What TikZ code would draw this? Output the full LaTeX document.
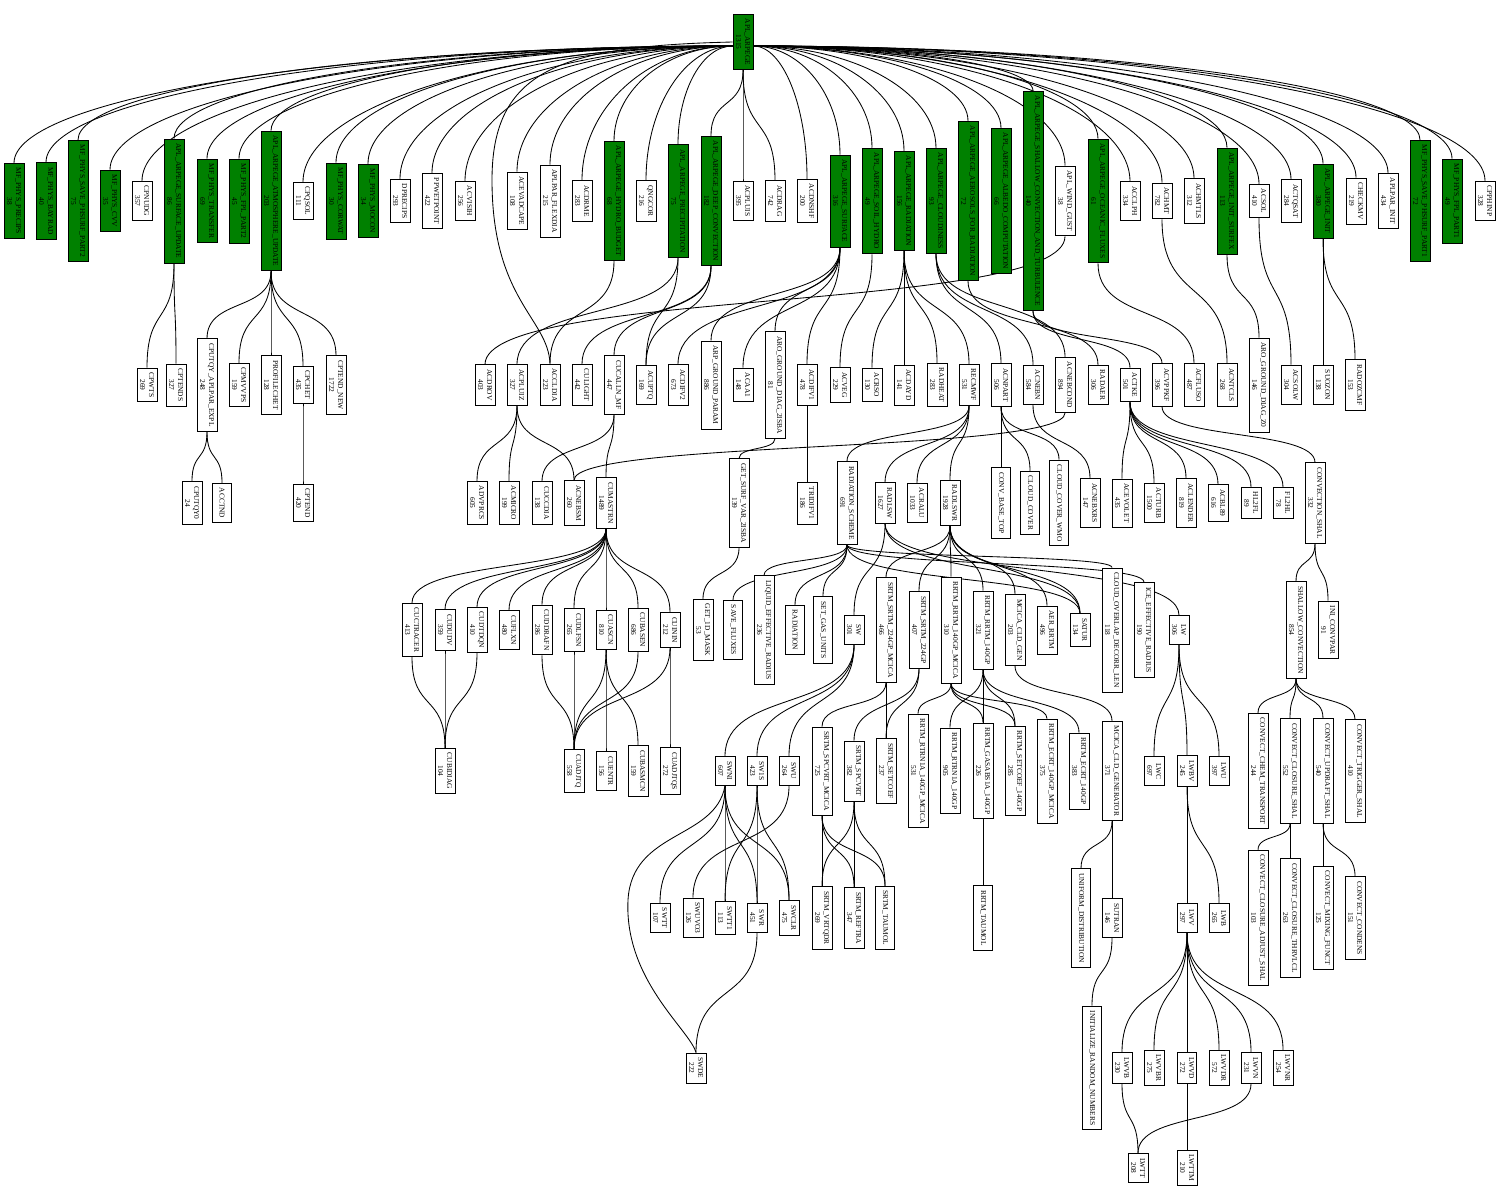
\documentclass[tikz,border=0pt]{standalone}
\usepackage{fontspec}
\setmainfont{Liberation Serif}
\usetikzlibrary{calc}
\definecolor{callgreen}{RGB}{0,128,0}
\pgfdeclarelayer{bg}
\pgfsetlayers{bg,main}
\tikzset{
  fn/.style={draw=black, line width=0.9pt, rectangle, rotate=-90,
    font=\fontsize{7.4}{9}\selectfont, align=center,
    inner xsep=4.5pt, inner ysep=3pt, minimum width=29pt, minimum height=19pt},
  gfn/.style={fn, fill=callgreen},
  wfn/.style={fn, fill=white},
  edge/.style={draw=black, line width=0.85pt},
}
% caller bottom -> callee top, graphviz-like S spline
\newcommand\cge[2]{\draw[edge] let \p1=(#1.east), \p2=(#2.west), \n1={0.6*abs(\y1-\y2)} in (\p1) .. controls +(0,-\n1) and +(0,\n1) .. (\p2);}
% fan from the root to the left / right
\newcommand\fanl[1]{\draw[edge] let \p1=($(root.south)+(0,-4)$), \p2=(#1.west), \n1={0.55*abs(\x1-\x2)}, \n2={0.55*abs(\y1-\y2)} in (\p1) .. controls +(-\n1,0) and +(0,\n2) .. (\p2);}
\newcommand\fanr[1]{\draw[edge] let \p1=($(root.north)+(0,-4)$), \p2=(#1.west), \n1={0.55*abs(\x1-\x2)}, \n2={0.55*abs(\y1-\y2)} in (\p1) .. controls +(\n1,0) and +(0,\n2) .. (\p2);}
\begin{document}
\begin{tikzpicture}[x=1pt,y=1pt]
\useasboundingbox (0,0) rectangle (1499,-1191);

\node[gfn] (root) at (743,-42) {APL\_ARPEGE\\1315};

% ---- level 1
\node[gfn] (precips) at (14,-201) {MF\_PHYS\_PRECIPS\\38};
\node[gfn] (bayrad) at (46,-201) {MF\_PHYS\_BAYRAD\\40};
\node[gfn] (phsurf2) at (78,-201) {MF\_PHYS\_SAVE\_PHSURF\_PART2\\75};
\node[gfn] (cvv) at (110,-201) {MF\_PHYS\_CVV\\35};
\node[wfn] (cpnudg) at (142,-201) {CPNUDG\\357};
\node[gfn] (surfupd) at (174,-201) {APL\_ARPEGE\_SURFACE\_UPDATE\\86};
\node[gfn] (transfer) at (207,-201) {MF\_PHYS\_TRANSFER\\69};
\node[gfn] (fpl2) at (239,-201) {MF\_PHYS\_FPL\_PART2\\45};
\node[gfn] (atmupd) at (271,-201) {APL\_ARPEGE\_ATMOSPHERE\_UPDATE\\203};
\node[wfn] (cpqsol) at (303,-201) {CPQSOL\\111};
\node[gfn] (corwat) at (336,-201) {MF\_PHYS\_CORWAT\\30};
\node[gfn] (mocon) at (368,-201) {MF\_PHYS\_MOCON\\34};
\node[wfn] (dprecips) at (400,-201) {DPRECIPS\\293};
\node[wfn] (ppwet) at (432,-201) {PPWETPOINT\\422};
\node[wfn] (acvisih) at (465,-201) {ACVISIH\\256};
\node[wfn] (acevad) at (517,-201) {ACEVADCAPE\\108};
\node[wfn] (flexdia) at (550,-201) {APLPAR\_FLEXDIA\\215};
\node[wfn] (acdrme) at (582,-201) {ACDRME\\283};
\node[gfn] (hydro) at (614,-201) {APL\_ARPEGE\_HYDRO\_BUDGET\\68};
\node[wfn] (qngcor) at (646,-201) {QNGCOR\\216};
\node[gfn] (precip) at (678,-201) {APL\_ARPEGE\_PRECIPITATION\\75};
\node[gfn] (deepconv) at (711,-201) {APL\_ARPEGE\_DEEP\_CONVECTION\\182};
\node[wfn] (acpluis) at (743,-201) {ACPLUIS\\395};
\node[wfn] (acdrag) at (775,-201) {ACDRAG\\742};
\node[wfn] (acdnshf) at (807,-201) {ACDNSHF\\200};
\node[gfn] (surface) at (840,-201) {APL\_ARPEGE\_SURFACE\\316};
\node[gfn] (soilhydro) at (872,-201) {APL\_ARPEGE\_SOIL\_HYDRO\\49};
\node[gfn] (radiation) at (904,-201) {APL\_ARPEGE\_RADIATION\\156};
\node[gfn] (cloudiness) at (936,-201) {APL\_ARPEGE\_CLOUDINESS\\93};
\node[gfn] (aerosols) at (968,-201) {APL\_ARPEGE\_AEROSOLS\_FOR\_RADIATION\\72};
\node[gfn] (albedo) at (1001,-201) {APL\_ARPEGE\_ALBEDO\_COMPUTATION\\66};
\node[gfn] (shalturb) at (1033,-201) {APL\_ARPEGE\_SHALLOW\_CONVECTION\_AND\_TURBULENCE\\140};
\node[wfn] (windgust) at (1065,-201) {APL\_WIND\_GUST\\38};
\node[gfn] (oceanic) at (1098,-201) {APL\_ARPEGE\_OCEANIC\_FLUXES\\61};
\node[wfn] (acclph) at (1130,-201) {ACCLPH\\334};
\node[wfn] (achmt) at (1162,-201) {ACHMT\\782};
\node[wfn] (achmtls) at (1194,-201) {ACHMTLS\\312};
\node[gfn] (initsurfex) at (1227,-201) {APL\_ARPEGE\_INIT\_SURFEX\\113};
\node[wfn] (acsol) at (1259,-201) {ACSOL\\410};
\node[wfn] (actqsat) at (1291,-201) {ACTQSAT\\284};
\node[gfn] (arpinit) at (1323,-201) {APL\_ARPEGE\_INIT\\380};
\node[wfn] (checkmv) at (1356,-201) {CHECKMV\\219};
\node[wfn] (aplparinit) at (1388,-201) {APLPAR\_INIT\\434};
\node[gfn] (phsurf1) at (1420,-201) {MF\_PHYS\_SAVE\_PHSURF\_PART1\\72};
\node[gfn] (fpl1) at (1452,-201) {MF\_PHYS\_FPL\_PART1\\49};
\node[wfn] (cpphinp) at (1485,-201) {CPPHINP\\328};

% ---- level 2
\node[wfn] (cpwts) at (147,-385) {CPWTS\\269};
\node[wfn] (cptends) at (176,-385) {CPTENDS\\327};
\node[wfn] (cputqy) at (207,-385) {CPUTQY\_APLPAR\_EXPL\\248};
\node[wfn] (cpmvvps) at (239,-385) {CPMVVPS\\159};
\node[wfn] (profilechet) at (271,-385) {PROFILECHET\\128};
\node[wfn] (cpchet) at (303,-385) {CPCHET\\435};
\node[wfn] (cptendnew) at (336,-385) {CPTEND\_NEW\\1722};
\node[wfn] (acdrov) at (485,-385) {ACDROV\\403};
\node[wfn] (acpluiz) at (517,-385) {ACPLUIZ\\327};
\node[wfn] (accldia) at (550,-385) {ACCLDIA\\223};
\node[wfn] (culight) at (582,-385) {CULIGHT\\442};
\node[wfn] (cucalln) at (614,-385) {CUCALLN\_MF\\447};
\node[wfn] (acuptq) at (646,-385) {ACUPTQ\\169};
\node[wfn] (acdifv2) at (678,-385) {ACDIFV2\\673};
\node[wfn] (arpground) at (711,-385) {ARP\_GROUND\_PARAM\\886};
\node[wfn] (acaa1) at (743,-385) {ACAA1\\148};
\node[wfn] (arodiag2) at (775,-385) {ARO\_GROUND\_DIAG\_2ISBA\\81};
\node[wfn] (acdifv1) at (807,-385) {ACDIFV1\\478};
\node[wfn] (acveg) at (840,-385) {ACVEG\\229};
\node[wfn] (acrso) at (872,-385) {ACRSO\\130};
\node[wfn] (acdayd) at (904,-385) {ACDAYD\\141};
\node[wfn] (radheat) at (937,-385) {RADHEAT\\283};
\node[wfn] (recmwf) at (969,-385) {RECMWF\\531};
\node[wfn] (acnpart) at (1001,-385) {ACNPART\\506};
\node[wfn] (acnebn) at (1033,-385) {ACNEBN\\584};
\node[wfn] (acnebcond) at (1065,-385) {ACNEBCOND\\894};
\node[wfn] (radaer) at (1098,-385) {RADAER\\306};
\node[wfn] (actke) at (1130,-385) {ACTKE\\501};
\node[wfn] (acvppkf) at (1162,-385) {ACVPPKF\\396};
\node[wfn] (acfluso) at (1194,-385) {ACFLUSO\\487};
\node[wfn] (acntcls) at (1227,-385) {ACNTCLS\\268};
\node[wfn] (arodiagz0) at (1259,-385) {ARO\_GROUND\_DIAG\_Z0\\146};
\node[wfn] (acsolw) at (1291,-385) {ACSOLW\\304};
\node[wfn] (suozon) at (1323,-385) {SUOZON\\138};
\node[wfn] (radozcmf) at (1355,-385) {RADOZCMF\\153};

% ---- level 3
\node[wfn] (cputqy0) at (192,-503) {CPUTQY0\\24};
\node[wfn] (acctnd) at (222,-503) {ACCTND};
\node[wfn] (cptend) at (303,-503) {CPTEND\\420};
\node[wfn] (advprcs) at (477,-503) {ADVPRCS\\605};
\node[wfn] (acmicro) at (509,-503) {ACMICRO\\199};
\node[wfn] (cuccdia) at (542,-503) {CUCCDIA\\138};
\node[wfn] (acnebsm) at (574,-503) {ACNEBSM\\260};
\node[wfn] (cumastrn) at (606,-503) {CUMASTRN\\1489};
\node[wfn] (getsurf) at (739,-503) {GET\_SURF\_VAR\_2ISBA\\139};
\node[wfn] (tridifv1) at (807,-503) {TRIDIFV1\\186};
\node[wfn] (radscheme) at (847,-503) {RADIATION\_SCHEME\\691};
\node[wfn] (radlsw) at (885,-503) {RADLSW\\1627};
\node[wfn] (acralu) at (917,-503) {ACRALU\\1033};
\node[wfn] (radlswr) at (950,-503) {RADLSWR\\1928};
\node[wfn] (convbase) at (1001,-503) {CONV\_BASE\_TOP};
\node[wfn] (cloudcover) at (1030,-503) {CLOUD\_COVER};
\node[wfn] (cloudwmo) at (1059,-503) {CLOUD\_COVER\_WMO};
\node[wfn] (acnebxrs) at (1090,-503) {ACNEBXRS\\147};
\node[wfn] (acevolet) at (1122,-503) {ACEVOLET\\435};
\node[wfn] (acturb) at (1154,-503) {ACTURB\\1500};
\node[wfn] (aclender) at (1186,-503) {ACLENDER\\819};
\node[wfn] (acbl89) at (1218,-503) {ACBL89\\616};
\node[wfn] (hl2fl) at (1251,-503) {HL2FL\\89};
\node[wfn] (fl2hl) at (1283,-503) {FL2HL\\78};
\node[wfn] (convshal) at (1315,-503) {CONVECTION\_SHAL\\332};

% ---- level 4
\node[wfn] (cuctracer) at (412,-630) {CUCTRACER\\413};
\node[wfn] (cududv) at (445,-630) {CUDUDV\\359};
\node[wfn] (cudtdqn) at (477,-630) {CUDTDQN\\410};
\node[wfn] (cuflxn) at (509,-630) {CUFLXN\\480};
\node[wfn] (cuddrafn) at (542,-630) {CUDDRAFN\\286};
\node[wfn] (cudlfsn) at (574,-630) {CUDLFSN\\265};
\node[wfn] (cuascn) at (606,-630) {CUASCN\\810};
\node[wfn] (cubasen) at (638,-630) {CUBASEN\\686};
\node[wfn] (cuinin) at (670,-630) {CUININ\\212};
\node[wfn] (get1d) at (703,-630) {GET\_1D\_MASK\\53};
\node[wfn] (savefluxes) at (733,-630) {SAVE\_FLUXES};
\node[wfn] (liqeff) at (764,-630) {LIQUID\_EFFECTIVE\_RADIUS\\236};
\node[wfn] (radiat) at (795,-630) {RADIATION};
\node[wfn] (setgas) at (823,-630) {SET\_GAS\_UNITS};
\node[wfn] (sw) at (854,-630) {SW\\301};
\node[wfn] (srtmmcica) at (886,-630) {SRTM\_SRTM\_224GP\_MCICA\\466};
\node[wfn] (srtm) at (919,-630) {SRTM\_SRTM\_224GP\\407};
\node[wfn] (rrtmmcica) at (951,-630) {RRTM\_RRTM\_140GP\_MCICA\\310};
\node[wfn] (rrtm) at (983,-630) {RRTM\_RRTM\_140GP\\321};
\node[wfn] (mcicagen) at (1015,-630) {MCICA\_CLD\_GEN\\203};
\node[wfn] (aerrrtm) at (1047,-630) {AER\_RRTM\\496};
\node[wfn] (satur) at (1080,-630) {SATUR\\134};
\node[wfn] (cloudoverlap) at (1112,-630) {CLOUD\_OVERLAP\_DECORR\_LEN\\118};
\node[wfn] (iceeff) at (1144,-630) {ICE\_EFFECTIVE\_RADIUS\\190};
\node[wfn] (lw) at (1179,-630) {LW\\306};
\node[wfn] (shallowconv) at (1296,-630) {SHALLOW\_CONVECTION\\854};
\node[wfn] (iniconvpar) at (1328,-630) {INI\_CONVPAR\\91};

% ---- level 5
\node[wfn] (cubidiag) at (445,-771) {CUBIDIAG\\104};
\node[wfn] (cuadjtq) at (574,-771) {CUADJTQ\\558};
\node[wfn] (cuentr) at (606,-771) {CUENTR\\156};
\node[wfn] (cubasmcn) at (638,-771) {CUBASMCN\\159};
\node[wfn] (cuadjtqs) at (670,-771) {CUADJTQS\\272};
\node[wfn] (swni) at (725,-771) {SWNI\\607};
\node[wfn] (sw1s) at (757,-771) {SW1S\\423};
\node[wfn] (swu) at (789,-771) {SWU\\264};
\node[wfn] (spcvrtmcica) at (822,-771) {SRTM\_SPCVRT\_MCICA\\725};
\node[wfn] (spcvrt) at (854,-771) {SRTM\_SPCVRT\\382};
\node[wfn] (srtmsetcoef) at (886,-771) {SRTM\_SETCOEF\\237};
\node[wfn] (rtrnmcica) at (918,-771) {RRTM\_RTRN1A\_140GP\_MCICA\\531};
\node[wfn] (rtrn) at (950,-771) {RRTM\_RTRN1A\_140GP\\905};
\node[wfn] (gasabs) at (983,-771) {RRTM\_GASABS1A\_140GP\\226};
\node[wfn] (rrtmsetcoef) at (1015,-771) {RRTM\_SETCOEF\_140GP\\285};
\node[wfn] (ecrtmcica) at (1047,-771) {RRTM\_ECRT\_140GP\_MCICA\\375};
\node[wfn] (ecrt) at (1079,-771) {RRTM\_ECRT\_140GP\\383};
\node[wfn] (mcicagenerator) at (1112,-771) {MCICA\_CLD\_GENERATOR\\371};
\node[wfn] (lwc) at (1154,-771) {LWC\\697};
\node[wfn] (lwbv) at (1187,-771) {LWBV\\245};
\node[wfn] (lwu) at (1219,-771) {LWU\\397};
\node[wfn] (chemtrans) at (1258,-771) {CONVECT\_CHEM\_TRANSPORT\\244};
\node[wfn] (closureshal) at (1290,-771) {CONVECT\_CLOSURE\_SHAL\\552};
\node[wfn] (updraftshal) at (1323,-771) {CONVECT\_UPDRAFT\_SHAL\\540};
\node[wfn] (triggershal) at (1355,-771) {CONVECT\_TRIGGER\_SHAL\\410};

% ---- level 6
\node[wfn] (swtt) at (660,-918) {SWTT\\107};
\node[wfn] (swuvo3) at (693,-918) {SWUVO3\\126};
\node[wfn] (swtt1) at (725,-918) {SWTT1\\113};
\node[wfn] (swr) at (757,-918) {SWR\\451};
\node[wfn] (swclr) at (789,-918) {SWCLR\\475};
\node[wfn] (vrtqdr) at (822,-918) {SRTM\_VRTQDR\\269};
\node[wfn] (reftra) at (854,-918) {SRTM\_REFTRA\\347};
\node[wfn] (srtmtaumol) at (885,-918) {SRTM\_TAUMOL};
\node[wfn] (rrtmtaumol) at (983,-918) {RRTM\_TAUMOL};
\node[wfn] (uniform) at (1081,-918) {UNIFORM\_DISTRIBUTION};
\node[wfn] (sutran) at (1112,-918) {SUTRAN\\146};
\node[wfn] (lwv) at (1187,-918) {LWV\\297};
\node[wfn] (lwb) at (1219,-918) {LWB\\265};
\node[wfn] (closureadj) at (1258,-918) {CONVECT\_CLOSURE\_ADJUST\_SHAL\\103};
\node[wfn] (thrvlcl) at (1290,-918) {CONVECT\_CLOSURE\_THRVLCL\\263};
\node[wfn] (mixing) at (1323,-918) {CONVECT\_MIXING\_FUNCT\\125};
\node[wfn] (condens) at (1355,-918) {CONVECT\_CONDENS\\151};

% ---- level 7 and 8
\node[wfn] (swde) at (696,-1068) {SWDE\\222};
\node[wfn] (initrand) at (1092,-1068) {INITIALIZE\_RANDOM\_NUMBERS};
\node[wfn] (lwvb) at (1122,-1068) {LWVB\\230};
\node[wfn] (lwvbr) at (1154,-1068) {LWVBR\\275};
\node[wfn] (lwvd) at (1187,-1068) {LWVD\\272};
\node[wfn] (lwvdr) at (1219,-1068) {LWVDR\\572};
\node[wfn] (lwvn) at (1251,-1068) {LWVN\\231};
\node[wfn] (lwvnr) at (1283,-1068) {LWVNR\\254};
\node[wfn] (lwtt) at (1138,-1168) {LWTT\\208};
\node[wfn] (lwttm) at (1187,-1168) {LWTTM\\210};

\begin{pgfonlayer}{bg}
% root fan
\foreach \k in {precips,bayrad,phsurf2,cvv,cpnudg,surfupd,transfer,fpl2,atmupd,cpqsol,corwat,mocon,dprecips,ppwet,acvisih,acevad,flexdia,acdrme,hydro,qngcor,precip}{\fanl{\k}}
\foreach \k in {acdnshf,surface,soilhydro,radiation,cloudiness,aerosols,albedo,shalturb,windgust,oceanic,acclph,achmt,achmtls,initsurfex,acsol,actqsat,arpinit,checkmv,aplparinit,phsurf1,fpl1,cpphinp}{\fanr{\k}}
\cge{root}{deepconv}
\cge{root}{acpluis}
\cge{root}{acdrag}
\draw[edge] (root.south) .. controls (560,-46) and (492,-70) .. (492,-180) .. controls (492,-300) and (548,-318) .. (accldia.west);

% level 1 -> 2
\foreach \k in {cpwts,cptends}{\cge{surfupd}{\k}}
\foreach \k in {cputqy,cpmvvps,profilechet,cpchet,cptendnew}{\cge{atmupd}{\k}}
\cge{hydro}{accldia}
\cge{precip}{acpluiz}
\cge{precip}{acuptq}
\foreach \k in {culight,cucalln,acuptq}{\cge{deepconv}{\k}}
\foreach \k in {acdifv1,acdifv2,arpground,acaa1,arodiag2}{\cge{surface}{\k}}
\cge{soilhydro}{acveg}
\foreach \k in {acrso,acdayd,radheat,recmwf}{\cge{radiation}{\k}}
\foreach \k in {acnpart,acnebn,acnebcond}{\cge{cloudiness}{\k}}
\cge{aerosols}{radaer}
\cge{shalturb}{actke}
\cge{shalturb}{acvppkf}
\cge{windgust}{acdrov}
\cge{oceanic}{acfluso}
\cge{achmt}{acntcls}
\cge{initsurfex}{arodiagz0}
\cge{acsol}{acsolw}
\cge{arpinit}{suozon}
\cge{arpinit}{radozcmf}

% level 2 -> 3
\cge{cputqy}{cputqy0}
\cge{cputqy}{acctnd}
\cge{cpchet}{cptend}
\foreach \k in {advprcs,acmicro,acnebsm}{\cge{acpluiz}{\k}}
\cge{cucalln}{cuccdia}
\cge{cucalln}{cumastrn}
\cge{acnebcond}{acnebsm}
\cge{arodiag2}{getsurf}
\cge{acdifv1}{tridifv1}
\foreach \k in {radscheme,radlsw,acralu,radlswr}{\cge{recmwf}{\k}}
\foreach \k in {convbase,cloudcover,cloudwmo}{\cge{acnpart}{\k}}
\cge{acnebn}{acnebxrs}
\foreach \k in {acevolet,acturb,aclender,acbl89,hl2fl,fl2hl}{\cge{actke}{\k}}
\cge{acvppkf}{convshal}

% level 3 -> 4
\foreach \k in {cuctracer,cududv,cudtdqn,cuflxn,cuddrafn,cudlfsn,cuascn,cubasen,cuinin}{\cge{cumastrn}{\k}}
\cge{getsurf}{get1d}
\foreach \k in {savefluxes,liqeff,radiat,setgas,cloudoverlap,iceeff,satur}{\cge{radscheme}{\k}}
\foreach \k in {sw,lw,satur}{\cge{radlsw}{\k}}
\foreach \k in {srtmmcica,srtm,rrtmmcica,rrtm,mcicagen,aerrrtm,satur}{\cge{radlswr}{\k}}
\cge{convshal}{shallowconv}
\cge{convshal}{iniconvpar}

% level 4 -> 5
\foreach \k in {cuctracer,cududv,cudtdqn}{\cge{\k}{cubidiag}}
\foreach \k in {cuddrafn,cudlfsn,cuascn,cubasen,cuinin}{\cge{\k}{cuadjtq}}
\cge{cuascn}{cuentr}
\cge{cuascn}{cubasmcn}
\cge{cuinin}{cuadjtqs}
\foreach \k in {swni,sw1s,swu}{\cge{sw}{\k}}
\cge{srtmmcica}{spcvrtmcica}
\cge{srtmmcica}{srtmsetcoef}
\cge{srtm}{spcvrt}
\cge{srtm}{srtmsetcoef}
\foreach \k in {rtrnmcica,gasabs,rrtmsetcoef,ecrtmcica}{\cge{rrtmmcica}{\k}}
\foreach \k in {rtrn,gasabs,rrtmsetcoef,ecrt}{\cge{rrtm}{\k}}
\cge{mcicagen}{mcicagenerator}
\foreach \k in {lwc,lwbv,lwu}{\cge{lw}{\k}}
\foreach \k in {chemtrans,closureshal,updraftshal,triggershal}{\cge{shallowconv}{\k}}

% level 5 -> 6
\foreach \k in {swtt,swtt1,swr,swclr}{\cge{swni}{\k}}
\draw[edge] (swni.east) .. controls (715,-840) and (632,-830) .. (628,-900) .. controls (624,-980) and (690,-1030) .. (swde.west);
\foreach \k in {swtt1,swr,swclr}{\cge{sw1s}{\k}}
\cge{swu}{swuvo3}
\foreach \k in {vrtqdr,reftra,srtmtaumol}{\cge{spcvrtmcica}{\k}\cge{spcvrt}{\k}}
\cge{gasabs}{rrtmtaumol}
\cge{mcicagenerator}{uniform}
\cge{mcicagenerator}{sutran}
\cge{lwbv}{lwv}
\cge{lwbv}{lwb}
\cge{closureshal}{closureadj}
\cge{closureshal}{thrvlcl}
\cge{updraftshal}{mixing}
\cge{updraftshal}{condens}

% level 6 -> 8
\cge{swr}{swde}
\cge{sutran}{initrand}
\foreach \k in {lwvb,lwvbr,lwvd,lwvdr,lwvn,lwvnr}{\cge{lwv}{\k}}
\cge{lwvb}{lwtt}
\cge{lwvn}{lwtt}
\cge{lwvd}{lwttm}
\end{pgfonlayer}
\end{tikzpicture}
\end{document}
